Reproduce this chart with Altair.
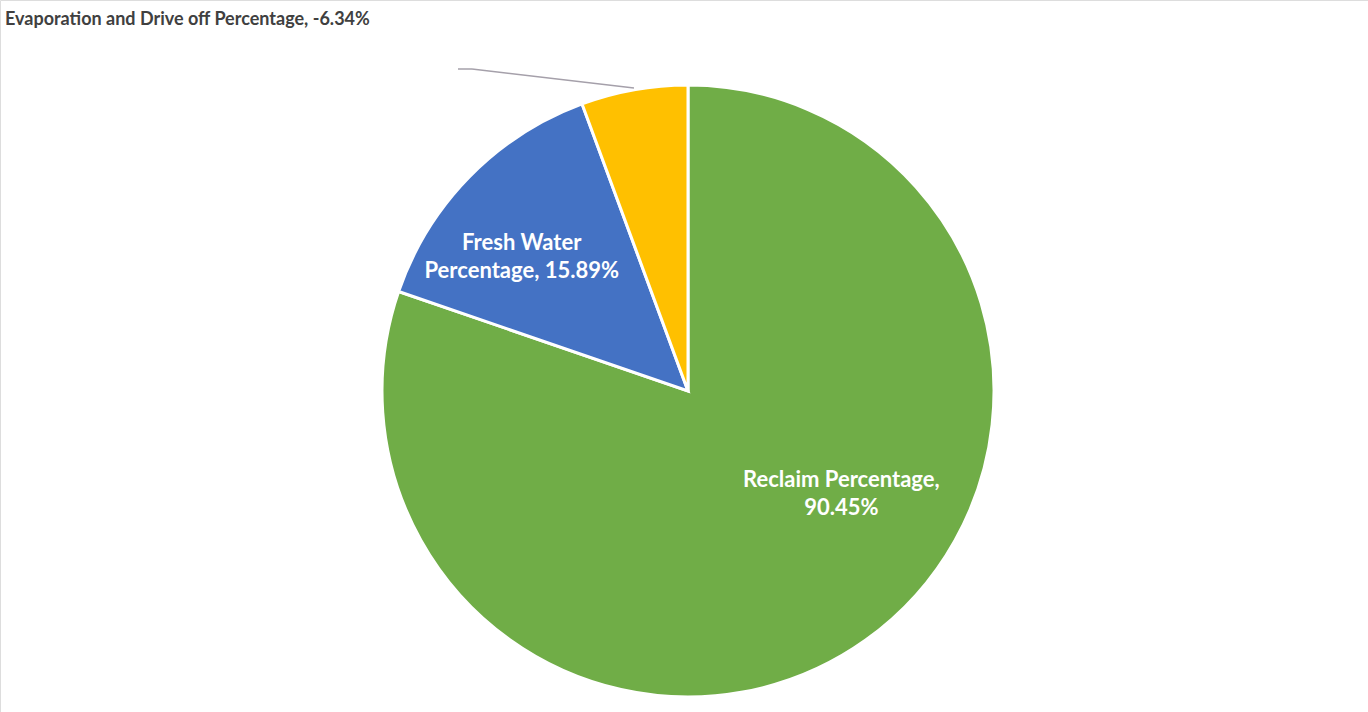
import altair as alt
import pandas as pd

categories = ["Reclaim Percentage", "Fresh Water Percentage", "Evaporation and Drive off Percentage"]
values = [90.45, 15.89, 6.34]          # slice sizes (absolute)
signed_values = [90.45, 15.89, -6.34]  # values as labelled
colors = ["#70AD47", "#4472C4", "#FFC000"]
label_line1 = ["Reclaim Percentage,", "Fresh Water", ""]
label_line2 = ["90.45%", "Percentage, 15.89%", ""]

df = pd.DataFrame({
    "category": categories,
    "value": values,
    "order": [0, 1, 2],
    "label1": label_line1,
    "label2": label_line2,
})

CX, CY, R = 688, 391, 306

pie = alt.Chart(df).mark_arc(outerRadius=R, stroke="white", strokeWidth=3).encode(
    theta=alt.Theta("value:Q", stack=True),
    order=alt.Order("order:Q"),
    x=alt.value(CX),
    y=alt.value(CY),
    color=alt.Color("category:N", scale=alt.Scale(domain=categories, range=colors), legend=None),
)

# mid-angle of each slice computed from the data
lab = alt.Chart(df).transform_window(
    cum="sum(value)", sort=[alt.SortField("order")]
).transform_joinaggregate(
    total="sum(value)"
).transform_calculate(
    mid="(datum.cum - datum.value / 2) / datum.total * 2 * PI"
).encode(
    theta=alt.Theta("mid:Q", scale=None),
    x=alt.value(CX),
    y=alt.value(CY),
)

font = "Lato"
common = dict(font=font, fontWeight="bold", fontSize=22, color="white")
rec_l1 = lab.transform_filter(alt.datum.order == 0).mark_text(radius=190, dx=43, dy=-66, **common).encode(text="label1:N")
rec_l2 = lab.transform_filter(alt.datum.order == 0).mark_text(radius=190, dx=43, dy=-38, **common).encode(text="label2:N")
fw_l1 = lab.transform_filter(alt.datum.order == 1).mark_text(radius=213, dx=-14, dy=1, **common).encode(text="label1:N")
fw_l2 = lab.transform_filter(alt.datum.order == 1).mark_text(radius=213, dx=-14, dy=29, **common).encode(text="label2:N")

evap_df = pd.DataFrame({"t": [f"{categories[2]}, {signed_values[2]:.2f}%"]})
evap = alt.Chart(evap_df).mark_text(
    font=font, fontWeight="bold", fontSize=18, color="#404040", align="left", baseline="middle"
).encode(text="t:N", x=alt.value(5), y=alt.value(20))

leader1 = alt.Chart(evap_df).mark_rule(color="#A5A0AA", strokeWidth=1.5).encode(
    x=alt.value(458), y=alt.value(69), x2=alt.value(472), y2=alt.value(69)
)
leader2 = alt.Chart(evap_df).mark_rule(color="#A5A0AA", strokeWidth=1.5).encode(
    x=alt.value(472), y=alt.value(69), x2=alt.value(634), y2=alt.value(88)
)

chart = alt.layer(pie, leader1, leader2, rec_l1, rec_l2, fw_l1, fw_l2, evap).properties(
    width=1368, height=712, padding=0, autosize=alt.AutoSizeParams(type="none")
).configure_view(stroke=None).configure(background="white")

chart.save("out.html", embed_options={"renderer": "svg", "actions": False})
